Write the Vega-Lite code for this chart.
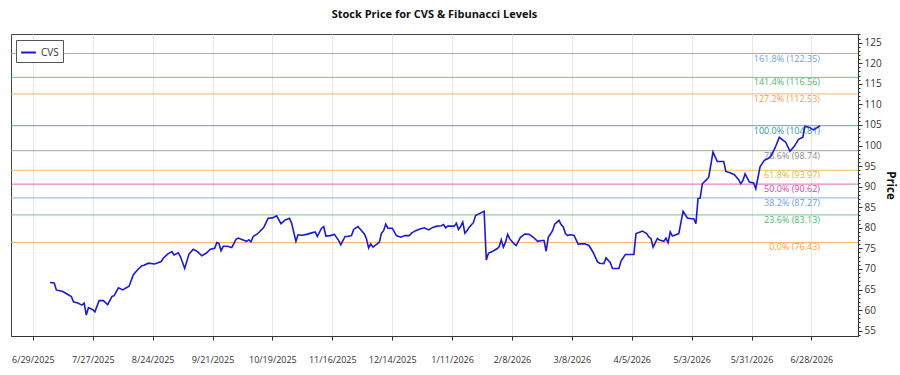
{
  "$schema": "https://vega.github.io/schema/vega-lite/v6.json",
  "width": 847,
  "height": 302,
  "autosize": {"type": "none"},
  "padding": {"left": 11, "top": 34, "right": 42, "bottom": 39},
  "title": {"text": "Stock Price for CVS & Fibunacci Levels", "fontSize": 11, "font": "Open Sans", "fontWeight": "bold", "color": "#111", "offset": 14},
  "config": {"font": "Open Sans", "view": {"stroke": "#444", "strokeWidth": 1}},
  "datasets": {
    "fib": [
      {"level": "0.0%", "value": 76.43, "label": "0.0% (76.43)"},
      {"level": "23.6%", "value": 83.13, "label": "23.6% (83.13)"},
      {"level": "38.2%", "value": 87.27, "label": "38.2% (87.27)"},
      {"level": "50.0%", "value": 90.62, "label": "50.0% (90.62)"},
      {"level": "61.8%", "value": 93.97, "label": "61.8% (93.97)"},
      {"level": "78.6%", "value": 98.74, "label": "78.6% (98.74)"},
      {"level": "100.0%", "value": 104.81, "label": "100.0% (104.81)"},
      {"level": "127.2%", "value": 112.53, "label": "127.2% (112.53)"},
      {"level": "141.4%", "value": 116.56, "label": "141.4% (116.56)"},
      {"level": "161.8%", "value": 122.35, "label": "161.8% (122.35)"}
    ],
    "price": [
      {"date": "2025-07-07", "close": 66.7}, {"date": "2025-07-09", "close": 66.6}, {"date": "2025-07-10", "close": 64.9},
      {"date": "2025-07-13", "close": 64.5}, {"date": "2025-07-15", "close": 63.9}, {"date": "2025-07-17", "close": 63.3},
      {"date": "2025-07-18", "close": 62.0}, {"date": "2025-07-20", "close": 61.7}, {"date": "2025-07-22", "close": 61.2},
      {"date": "2025-07-23", "close": 61.7}, {"date": "2025-07-24", "close": 58.8}, {"date": "2025-07-25", "close": 60.6},
      {"date": "2025-07-27", "close": 60.1}, {"date": "2025-07-28", "close": 59.6}, {"date": "2025-07-30", "close": 62.3},
      {"date": "2025-08-01", "close": 62.3}, {"date": "2025-08-03", "close": 61.3}, {"date": "2025-08-05", "close": 63.3},
      {"date": "2025-08-06", "close": 63.5}, {"date": "2025-08-08", "close": 65.4}, {"date": "2025-08-10", "close": 64.9},
      {"date": "2025-08-13", "close": 65.8}, {"date": "2025-08-15", "close": 68.6}, {"date": "2025-08-17", "close": 69.8},
      {"date": "2025-08-19", "close": 70.8}, {"date": "2025-08-20", "close": 70.9}, {"date": "2025-08-22", "close": 71.4},
      {"date": "2025-08-25", "close": 71.2}, {"date": "2025-08-28", "close": 71.8}, {"date": "2025-08-29", "close": 72.6},
      {"date": "2025-08-31", "close": 73.6}, {"date": "2025-09-02", "close": 74.2}, {"date": "2025-09-03", "close": 73.4},
      {"date": "2025-09-05", "close": 73.9}, {"date": "2025-09-06", "close": 73.0}, {"date": "2025-09-08", "close": 70.1},
      {"date": "2025-09-10", "close": 73.6}, {"date": "2025-09-12", "close": 74.8}, {"date": "2025-09-14", "close": 74.2},
      {"date": "2025-09-16", "close": 73.2}, {"date": "2025-09-18", "close": 73.8}, {"date": "2025-09-20", "close": 74.8},
      {"date": "2025-09-22", "close": 75.0}, {"date": "2025-09-23", "close": 76.4}, {"date": "2025-09-24", "close": 76.2},
      {"date": "2025-09-25", "close": 74.4}, {"date": "2025-09-26", "close": 75.5}, {"date": "2025-09-28", "close": 75.5},
      {"date": "2025-09-30", "close": 75.2}, {"date": "2025-10-02", "close": 77.2}, {"date": "2025-10-03", "close": 77.5},
      {"date": "2025-10-05", "close": 77.1}, {"date": "2025-10-07", "close": 76.7}, {"date": "2025-10-08", "close": 77.1},
      {"date": "2025-10-09", "close": 76.6}, {"date": "2025-10-10", "close": 77.9}, {"date": "2025-10-12", "close": 78.5},
      {"date": "2025-10-15", "close": 80.1}, {"date": "2025-10-17", "close": 82.3}, {"date": "2025-10-19", "close": 82.4},
      {"date": "2025-10-21", "close": 82.9}, {"date": "2025-10-23", "close": 81.0}, {"date": "2025-10-25", "close": 81.9},
      {"date": "2025-10-27", "close": 82.3}, {"date": "2025-10-28", "close": 81.1}, {"date": "2025-10-30", "close": 76.7},
      {"date": "2025-10-31", "close": 78.3}, {"date": "2025-11-02", "close": 78.2}, {"date": "2025-11-04", "close": 78.4},
      {"date": "2025-11-06", "close": 78.7}, {"date": "2025-11-08", "close": 79.0}, {"date": "2025-11-09", "close": 77.9},
      {"date": "2025-11-11", "close": 79.9}, {"date": "2025-11-12", "close": 80.3}, {"date": "2025-11-13", "close": 78.0},
      {"date": "2025-11-15", "close": 78.1}, {"date": "2025-11-17", "close": 78.4}, {"date": "2025-11-19", "close": 76.9},
      {"date": "2025-11-20", "close": 75.9}, {"date": "2025-11-22", "close": 77.9}, {"date": "2025-11-23", "close": 77.9},
      {"date": "2025-11-25", "close": 78.1}, {"date": "2025-11-26", "close": 79.6}, {"date": "2025-11-28", "close": 80.3},
      {"date": "2025-11-29", "close": 79.7}, {"date": "2025-12-01", "close": 78.5}, {"date": "2025-12-02", "close": 77.3},
      {"date": "2025-12-03", "close": 75.1}, {"date": "2025-12-04", "close": 76.1}, {"date": "2025-12-05", "close": 75.3},
      {"date": "2025-12-07", "close": 76.1}, {"date": "2025-12-08", "close": 76.5}, {"date": "2025-12-09", "close": 78.7},
      {"date": "2025-12-10", "close": 79.3}, {"date": "2025-12-11", "close": 80.9}, {"date": "2025-12-12", "close": 79.9},
      {"date": "2025-12-14", "close": 79.9}, {"date": "2025-12-16", "close": 78.1}, {"date": "2025-12-18", "close": 77.7},
      {"date": "2025-12-20", "close": 78.1}, {"date": "2025-12-22", "close": 78.1}, {"date": "2025-12-23", "close": 78.7},
      {"date": "2025-12-25", "close": 79.3}, {"date": "2025-12-27", "close": 79.7}, {"date": "2025-12-29", "close": 80.0},
      {"date": "2025-12-31", "close": 79.5}, {"date": "2026-01-02", "close": 80.1}, {"date": "2026-01-04", "close": 80.4},
      {"date": "2026-01-06", "close": 80.5}, {"date": "2026-01-07", "close": 80.8}, {"date": "2026-01-08", "close": 80.0},
      {"date": "2026-01-09", "close": 80.4}, {"date": "2026-01-11", "close": 80.4}, {"date": "2026-01-12", "close": 80.4},
      {"date": "2026-01-13", "close": 81.1}, {"date": "2026-01-14", "close": 79.6}, {"date": "2026-01-15", "close": 80.3},
      {"date": "2026-01-16", "close": 81.4}, {"date": "2026-01-17", "close": 78.7}, {"date": "2026-01-18", "close": 79.3},
      {"date": "2026-01-19", "close": 80.1}, {"date": "2026-01-21", "close": 81.3}, {"date": "2026-01-22", "close": 83.0},
      {"date": "2026-01-24", "close": 83.5}, {"date": "2026-01-26", "close": 84.0}, {"date": "2026-01-27", "close": 72.2},
      {"date": "2026-01-28", "close": 73.8}, {"date": "2026-01-30", "close": 74.3}, {"date": "2026-02-01", "close": 74.9},
      {"date": "2026-02-02", "close": 75.4}, {"date": "2026-02-03", "close": 77.1}, {"date": "2026-02-04", "close": 75.3},
      {"date": "2026-02-05", "close": 76.5}, {"date": "2026-02-06", "close": 78.4}, {"date": "2026-02-07", "close": 77.3},
      {"date": "2026-02-09", "close": 76.1}, {"date": "2026-02-10", "close": 75.7}, {"date": "2026-02-12", "close": 77.7},
      {"date": "2026-02-14", "close": 78.5}, {"date": "2026-02-16", "close": 78.4}, {"date": "2026-02-18", "close": 77.7},
      {"date": "2026-02-20", "close": 76.7}, {"date": "2026-02-22", "close": 76.9}, {"date": "2026-02-23", "close": 76.9},
      {"date": "2026-02-24", "close": 74.3}, {"date": "2026-02-25", "close": 77.7}, {"date": "2026-02-27", "close": 79.3},
      {"date": "2026-02-28", "close": 80.9}, {"date": "2026-03-02", "close": 81.8}, {"date": "2026-03-03", "close": 80.8},
      {"date": "2026-03-04", "close": 80.2}, {"date": "2026-03-05", "close": 78.6}, {"date": "2026-03-06", "close": 78.1},
      {"date": "2026-03-07", "close": 78.3}, {"date": "2026-03-09", "close": 78.2}, {"date": "2026-03-11", "close": 76.0},
      {"date": "2026-03-12", "close": 76.1}, {"date": "2026-03-14", "close": 76.1}, {"date": "2026-03-16", "close": 75.7},
      {"date": "2026-03-18", "close": 74.0}, {"date": "2026-03-20", "close": 71.7}, {"date": "2026-03-21", "close": 71.4},
      {"date": "2026-03-23", "close": 71.3}, {"date": "2026-03-24", "close": 72.7}, {"date": "2026-03-26", "close": 71.5},
      {"date": "2026-03-27", "close": 70.1}, {"date": "2026-03-29", "close": 70.1}, {"date": "2026-03-30", "close": 70.1},
      {"date": "2026-03-31", "close": 71.9}, {"date": "2026-04-02", "close": 73.5}, {"date": "2026-04-04", "close": 73.5},
      {"date": "2026-04-06", "close": 73.5}, {"date": "2026-04-07", "close": 78.6}, {"date": "2026-04-09", "close": 79.0},
      {"date": "2026-04-10", "close": 79.2}, {"date": "2026-04-12", "close": 78.6}, {"date": "2026-04-13", "close": 77.8},
      {"date": "2026-04-14", "close": 77.4}, {"date": "2026-04-15", "close": 75.3}, {"date": "2026-04-17", "close": 77.4},
      {"date": "2026-04-18", "close": 77.0}, {"date": "2026-04-20", "close": 76.7}, {"date": "2026-04-21", "close": 77.5},
      {"date": "2026-04-22", "close": 76.4}, {"date": "2026-04-23", "close": 79.0}, {"date": "2026-04-24", "close": 78.0},
      {"date": "2026-04-25", "close": 78.2}, {"date": "2026-04-27", "close": 78.6}, {"date": "2026-04-29", "close": 84.0},
      {"date": "2026-05-01", "close": 82.4}, {"date": "2026-05-03", "close": 82.2}, {"date": "2026-05-04", "close": 82.2},
      {"date": "2026-05-05", "close": 81.0}, {"date": "2026-05-06", "close": 87.1}, {"date": "2026-05-07", "close": 87.2},
      {"date": "2026-05-08", "close": 90.7}, {"date": "2026-05-10", "close": 91.7}, {"date": "2026-05-11", "close": 92.3},
      {"date": "2026-05-13", "close": 98.4}, {"date": "2026-05-15", "close": 96.1}, {"date": "2026-05-18", "close": 96.1},
      {"date": "2026-05-19", "close": 93.7}, {"date": "2026-05-21", "close": 93.4}, {"date": "2026-05-23", "close": 92.9},
      {"date": "2026-05-25", "close": 91.7}, {"date": "2026-05-26", "close": 90.7}, {"date": "2026-05-27", "close": 91.5},
      {"date": "2026-05-28", "close": 93.1}, {"date": "2026-05-30", "close": 91.1}, {"date": "2026-06-01", "close": 90.9},
      {"date": "2026-06-02", "close": 89.5}, {"date": "2026-06-04", "close": 94.8}, {"date": "2026-06-06", "close": 96.4},
      {"date": "2026-06-08", "close": 96.9}, {"date": "2026-06-09", "close": 97.4}, {"date": "2026-06-11", "close": 99.4},
      {"date": "2026-06-13", "close": 102.0}, {"date": "2026-06-15", "close": 101.2}, {"date": "2026-06-16", "close": 100.8},
      {"date": "2026-06-18", "close": 98.6}, {"date": "2026-06-20", "close": 99.8}, {"date": "2026-06-22", "close": 101.5},
      {"date": "2026-06-24", "close": 102.0}, {"date": "2026-06-25", "close": 104.7}, {"date": "2026-06-27", "close": 104.4},
      {"date": "2026-06-29", "close": 103.8}, {"date": "2026-06-30", "close": 104.1}, {"date": "2026-07-02", "close": 104.8}
    ]
  },
  "layer": [
    {
      "data": {"name": "fib"},
      "mark": {"type": "rule", "strokeWidth": 1, "opacity": 0.8},
      "encoding": {
        "y": {"field": "value", "type": "quantitative",
          "axis": {"orient": "right", "title": null, "labels": false, "domain": false, "grid": false, "tickSize": 2, "tickColor": "#333",
            "values": [54,55,56,57,58,59,60,61,62,63,64,65,66,67,68,69,70,71,72,73,74,75,76,77,78,79,80,81,82,83,84,85,86,87,88,89,90,91,92,93,94,95,96,97,98,99,100,101,102,103,104,105,106,107,108,109,110,111,112,113,114,115,116,117,118,119,120,121,122,123,124,125,126,127]}},
        "color": {"field": "level", "type": "nominal", "legend": null,
          "scale": {"domain": ["0.0%", "23.6%", "38.2%", "50.0%", "61.8%", "78.6%", "100.0%", "127.2%", "141.4%", "161.8%"],
                    "range": ["#f5a33c", "#4db86e", "#6d9eea", "#d63fa8", "#e8b23a", "#8c8c8c", "#2e9696", "#f5a33c", "#4db86e", "#6d9eea"]}}
      }
    },
    {
      "data": {"name": "fib"},
      "mark": {"type": "text", "align": "right", "baseline": "top", "dy": 1, "fontSize": 9},
      "encoding": {
        "x": {"datum": {"year": 2026, "month": 7, "date": 2}, "type": "temporal"},
        "y": {"field": "value", "type": "quantitative", "axis": null},
        "text": {"field": "label"},
        "color": {"field": "level", "type": "nominal", "legend": null,
          "scale": {"domain": ["0.0%", "23.6%", "38.2%", "50.0%", "61.8%", "78.6%", "100.0%", "127.2%", "141.4%", "161.8%"],
                    "range": ["#f5a33c", "#4db86e", "#6d9eea", "#d63fa8", "#e8b23a", "#8c8c8c", "#2e9696", "#f5a33c", "#4db86e", "#6d9eea"]}}
      }
    },
    {
      "data": {"name": "price"},
      "mark": {"type": "line", "strokeWidth": 1.6},
      "encoding": {
        "x": {"field": "date", "type": "temporal",
          "scale": {"domain": [{"year": 2025, "month": 6, "date": 18, "hours": 19}, {"year": 2026, "month": 7, "date": 19, "hours": 19}], "nice": false},
          "axis": {"title": null, "format": "%-m/%-d/%Y",
            "values": [
              {"year": 2025, "month": 6, "date": 29}, {"year": 2025, "month": 7, "date": 27}, {"year": 2025, "month": 8, "date": 24},
              {"year": 2025, "month": 9, "date": 21}, {"year": 2025, "month": 10, "date": 19}, {"year": 2025, "month": 11, "date": 16},
              {"year": 2025, "month": 12, "date": 14}, {"year": 2026, "month": 1, "date": 11}, {"year": 2026, "month": 2, "date": 8},
              {"year": 2026, "month": 3, "date": 8}, {"year": 2026, "month": 4, "date": 5}, {"year": 2026, "month": 5, "date": 3},
              {"year": 2026, "month": 5, "date": 31}, {"year": 2026, "month": 6, "date": 28}],
            "grid": true, "gridColor": "#e6e6e6", "tickSize": 4, "tickColor": "#333", "domainColor": "#333",
            "labelFontSize": 9, "labelColor": "#333", "labelPadding": 15, "labelOverlap": false}},
        "y": {"field": "close", "type": "quantitative",
          "scale": {"domain": [53.7, 127.1], "nice": false, "zero": false},
          "axis": {"orient": "right", "title": "Price", "titleFontSize": 11.5, "titleFontWeight": "bold", "titleColor": "#111",
            "titleAngle": 90, "titlePadding": 3, "grid": false,
            "values": [55, 60, 65, 70, 75, 80, 85, 90, 95, 100, 105, 110, 115, 120, 125],
            "labelFontSize": 10, "labelColor": "#333", "labelPadding": 2, "tickSize": 4,
            "tickColor": "#333", "domainColor": "#333"}},
        "color": {"datum": "CVS", "type": "nominal",
          "scale": {"domain": ["CVS"], "range": ["#1a1ad6"]},
          "legend": {"title": null, "orient": "none", "legendX": 5, "legendY": 6, "symbolType": "stroke", "symbolStrokeWidth": 2,
            "symbolSize": 220, "labelFontSize": 10, "labelColor": "#333", "strokeColor": "#555", "fillColor": "white", "padding": 4}}
      }
    }
  ],
  "resolve": {"scale": {"color": "independent"}, "axis": {"y": "independent"}}
}
